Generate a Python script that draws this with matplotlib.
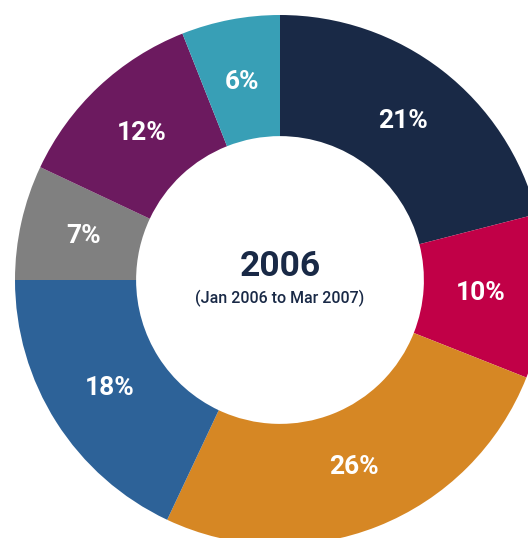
import matplotlib.pyplot as plt

# slice shares, clockwise from 12 o'clock
shares = [21, 10, 26, 18, 7, 12, 6]
colors = ["#192946", "#c10047", "#d68724", "#2d6298", "#808080", "#6c1a5f", "#389fb6"]
title = "2006"
subtitle = "(Jan 2006 to Mar 2007)"

navy = "#192946"

fig = plt.figure(figsize=(5.28, 5.38), dpi=100)
ax = fig.add_axes([0, 0, 1, 1])

wedges, texts, autotexts = ax.pie(
    shares,
    colors=colors,
    startangle=90,
    counterclock=False,
    radius=1.0,
    autopct=lambda p: f"{p:.0f}%",
    pctdistance=0.76,
    wedgeprops=dict(width=0.457, linewidth=0),
    textprops=dict(color="white", fontsize=19, fontweight="bold", family="Roboto"),
)

# center text
ax.text(0, 0.05, title, ha="center", va="center", color=navy,
        fontsize=25.5, fontweight="bold", family="Roboto")
ax.text(0, -0.068, subtitle, ha="center", va="center", color=navy,
        fontsize=11.5, fontweight="medium", family="Roboto")

# donut is cropped on the right and bottom like the original
ax.set_xlim(-280 / 265, (528 - 280) / 265)
ax.set_ylim(-258 / 265, 280 / 265)
ax.set_aspect("auto")
ax.axis("off")

fig.savefig("out.png", dpi=100)
